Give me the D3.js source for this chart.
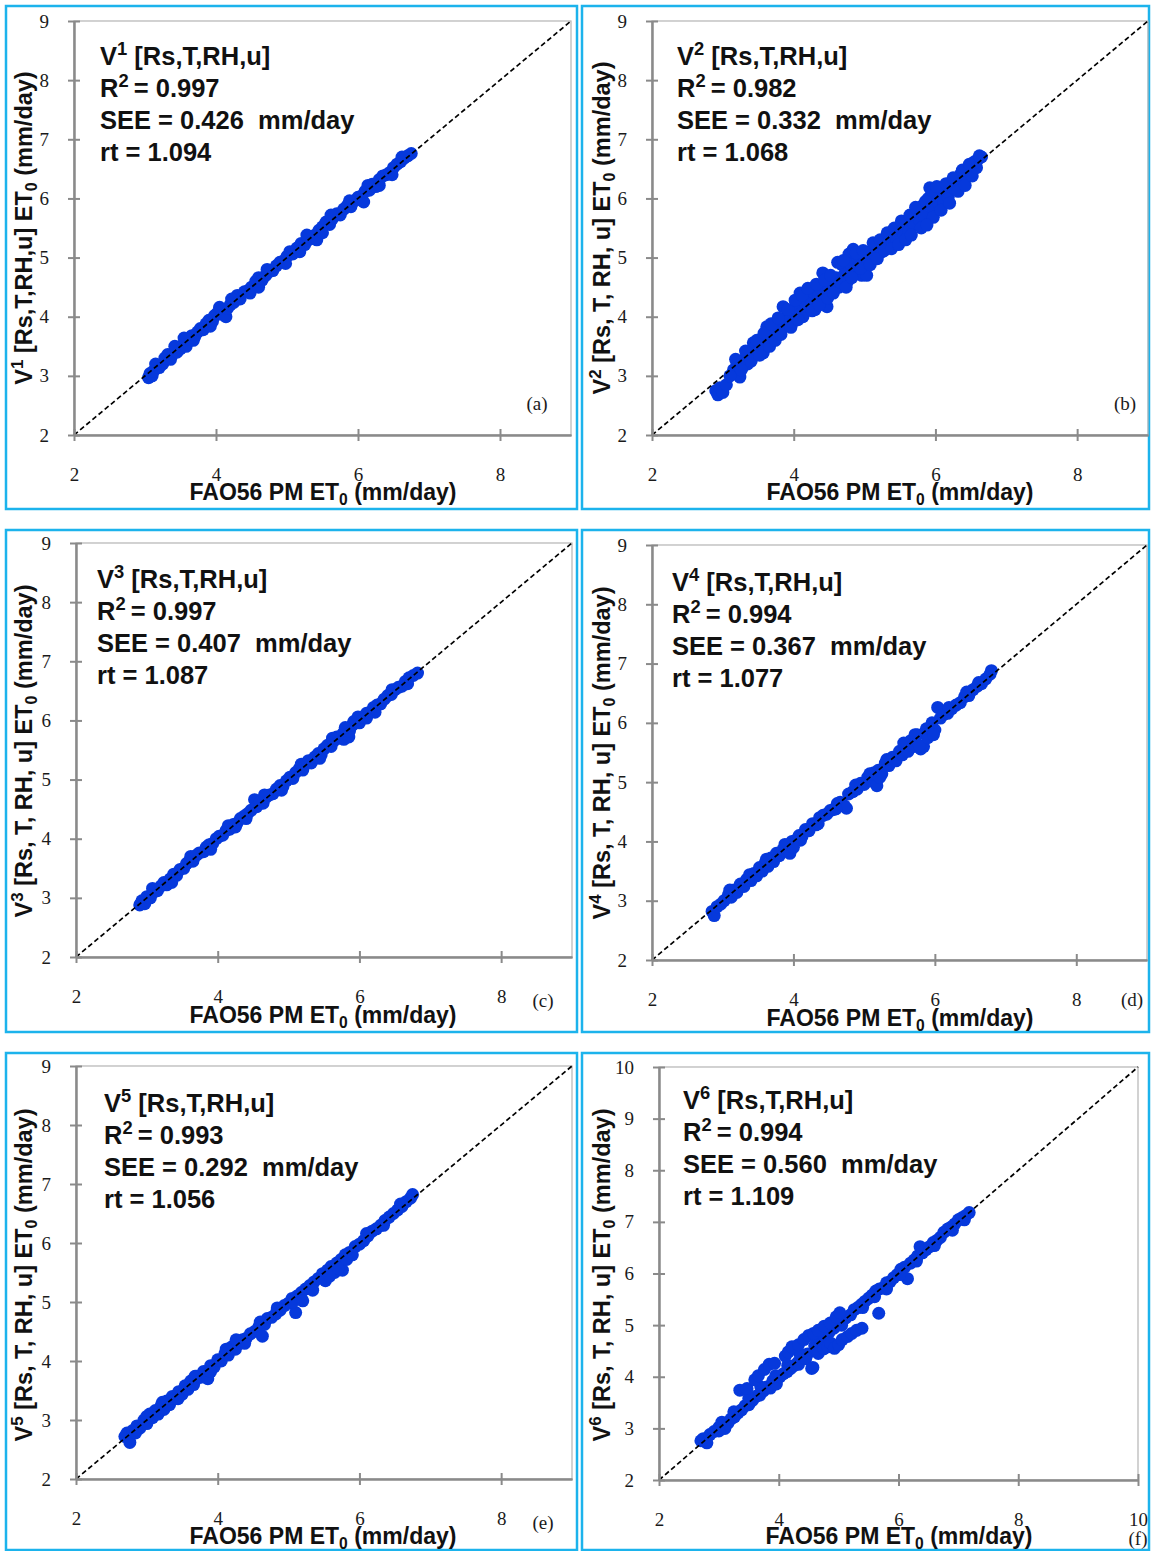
<!DOCTYPE html>
<html>
<head>
<meta charset="utf-8">
<script src="https://cdn.jsdelivr.net/npm/d3@7"></script>
<style>
body { margin: 0; background: #fff; }
svg { display: block; }
</style>
</head>
<body>
<svg id="chart" width="1151" height="1551"></svg>
<script>
// FAO56 PM ET0 (x) vs. estimated ET0 (y), mm/day
var v1Pts = [[3.05,2.97],[3.07,3.04],[3.1,3.0],[3.12,3.08],[3.2,3.14],[3.25,3.2],[3.28,3.3],[3.32,3.36],[3.36,3.28],[3.4,3.38],[3.45,3.4],[3.5,3.46],[3.55,3.55],[3.58,3.5],[3.62,3.62],[3.66,3.68],[3.7,3.66],[3.74,3.74],[3.78,3.8],[3.82,3.78],[3.86,3.88],[3.9,3.94],[3.95,3.92],[3.98,4.02],[4.02,4.06],[4.08,4.04],[4.14,4.0],[4.16,4.14],[4.2,4.2],[4.25,4.24],[4.3,4.36],[4.34,4.3],[4.4,4.42],[4.45,4.44],[4.5,4.5],[4.56,4.6],[4.6,4.66],[4.65,4.62],[4.7,4.7],[4.75,4.76],[4.8,4.78],[4.85,4.86],[4.9,4.92],[4.95,4.94],[5.0,5.02],[5.04,5.1],[5.08,5.06],[5.14,5.16],[5.2,5.24],[5.25,5.22],[5.3,5.3],[5.35,5.36],[5.4,5.38],[5.42,5.3],[5.45,5.46],[5.5,5.52],[5.55,5.6],[5.6,5.56],[5.64,5.66],[5.7,5.74],[5.75,5.72],[5.8,5.82],[5.85,5.88],[5.9,5.86],[5.95,5.96],[6.0,6.02],[6.05,6.04],[6.08,5.94],[6.1,6.12],[6.16,6.14],[6.2,6.24],[6.25,6.2],[6.3,6.32],[6.35,6.38],[6.4,6.4],[6.45,6.44],[6.5,6.52],[6.55,6.58],[6.6,6.62],[6.65,6.68],[6.7,6.72],[6.75,6.76],
  [3.15,3.2],[3.42,3.5],[3.68,3.6],[3.92,3.84],[4.22,4.3],[4.48,4.4],[4.72,4.8],[4.98,4.9],[5.18,5.1],[5.5,5.42],[5.62,5.72],[5.88,5.96],[6.14,6.22],[6.3,6.22],[6.48,6.4],[6.62,6.7],[4.6,4.5],[5.28,5.38],[3.55,3.64],[4.05,4.16]];

var v2Pts = [[2.9,2.75],[2.93,2.68],[2.96,2.8],[3.0,2.72],[3.05,2.85],[3.15,3.1],[3.2,3.2],[3.24,2.98],[3.28,3.15],[3.3,3.28],[3.35,3.2],[3.38,3.36],[3.43,3.56],[3.45,3.48],[3.5,3.42],[3.55,3.58],[3.57,3.39],[3.6,3.66],[3.62,3.83],[3.65,3.62],[3.7,3.76],[3.72,3.68],[3.76,3.86],[3.8,3.82],[3.85,4.17],[3.88,3.85],[3.9,4.0],[3.95,3.96],[3.98,4.08],[4.0,3.92],[4.05,4.12],[4.09,4.4],[4.1,4.05],[4.13,4.0],[4.15,4.3],[4.18,4.18],[4.22,4.38],[4.25,4.25],[4.28,4.42],[4.3,4.12],[4.35,4.35],[4.38,4.48],[4.41,4.74],[4.42,4.3],[4.47,4.17],[4.45,4.52],[4.5,4.45],[4.55,4.58],[4.6,4.66],[4.62,4.92],[4.64,4.5],[4.68,4.88],[4.72,4.72],[4.76,4.6],[4.78,5.06],[4.8,4.9],[4.84,5.14],[4.85,4.78],[4.9,4.98],[4.92,4.84],[4.96,4.7],[5.0,5.0],[5.03,4.7],[5.05,4.95],[5.1,5.12],[5.15,5.05],[5.2,5.18],[5.25,5.1],[5.3,5.3],[5.35,5.22],[5.4,5.38],[5.45,5.3],[5.5,5.52],[5.55,5.4],[5.6,5.62],[5.62,5.45],[5.68,5.72],[5.7,5.55],[5.75,5.8],[5.78,5.62],[5.82,5.88],[5.85,5.7],[5.9,6.0],[5.92,6.18],[5.95,5.85],[5.96,6.12],[5.97,5.68],[6.0,6.08],[6.05,5.92],[6.1,6.1],[6.12,5.95],[6.18,6.02],[6.22,6.2],[6.28,6.15],[6.3,6.3],[6.35,6.4],[6.4,6.34],[6.45,6.5],[6.5,6.46],[6.55,6.62],[6.6,6.66],[6.65,6.7],
  [3.1,3.0],[3.18,3.28],[3.26,3.1],[3.32,3.42],[3.4,3.25],[3.48,3.6],[3.52,3.35],[3.58,3.72],[3.66,3.5],[3.68,3.88],[3.74,3.6],[3.78,3.98],[3.82,3.7],[3.92,4.12],[3.96,3.82],[4.02,4.28],[4.06,3.95],[4.12,4.36],[4.2,4.48],[4.26,4.1],[4.32,4.55],[4.36,4.2],[4.44,4.62],[4.48,4.32],[4.52,4.7],[4.56,4.4],[4.66,4.58],[4.7,4.95],[4.74,4.5],[4.82,4.66],[4.88,5.08],[4.94,4.82],[4.98,5.12],[5.08,4.88],[5.12,5.25],[5.18,4.98],[5.22,5.3],[5.28,5.12],[5.32,5.42],[5.38,5.15],[5.42,5.5],[5.48,5.22],[5.52,5.62],[5.58,5.3],[5.64,5.72],[5.66,5.38],[5.72,5.85],[5.8,5.5],[5.86,5.95],[5.88,5.55],[6.02,6.2],[6.08,5.8],[6.15,6.25],[6.2,5.92],[6.25,6.35],[6.32,6.12],[6.38,6.48],[6.42,6.22],[6.48,6.58],[6.52,6.38],[6.58,6.52],[6.62,6.72]];

var v3Pts = [[2.9,2.88],[2.93,2.95],[2.97,2.9],[3.0,3.02],[3.05,3.0],[3.1,3.1],[3.15,3.12],[3.2,3.2],[3.24,3.26],[3.28,3.22],[3.33,3.32],[3.38,3.4],[3.42,3.38],[3.47,3.48],[3.52,3.5],[3.56,3.58],[3.6,3.62],[3.65,3.62],[3.7,3.72],[3.74,3.76],[3.8,3.78],[3.84,3.86],[3.88,3.9],[3.93,3.92],[3.98,4.0],[4.02,4.04],[4.07,4.06],[4.12,4.14],[4.17,4.16],[4.22,4.24],[4.27,4.26],[4.32,4.34],[4.37,4.38],[4.42,4.42],[4.47,4.48],[4.52,4.66],[4.55,4.54],[4.6,4.62],[4.64,4.6],[4.68,4.7],[4.73,4.74],[4.78,4.76],[4.83,4.84],[4.88,4.9],[4.92,4.88],[4.97,4.98],[5.02,5.04],[5.06,5.02],[5.1,5.12],[5.15,5.18],[5.2,5.16],[5.24,5.26],[5.28,5.32],[5.32,5.28],[5.37,5.38],[5.42,5.44],[5.46,5.42],[5.5,5.52],[5.55,5.58],[5.6,5.56],[5.64,5.66],[5.68,5.72],[5.72,5.7],[5.77,5.78],[5.78,5.68],[5.82,5.84],[5.85,5.72],[5.86,5.82],[5.9,5.92],[5.92,5.98],[5.95,5.98],[6.0,5.96],[6.05,6.06],[6.1,6.12],[6.15,6.14],[6.2,6.22],[6.25,6.26],[6.3,6.28],[6.35,6.36],[6.4,6.42],[6.45,6.44],[6.5,6.52],[6.55,6.56],[6.6,6.58],[6.65,6.66],[6.7,6.72],[6.76,6.76],[6.82,6.8],
  [3.08,3.16],[3.35,3.26],[3.62,3.7],[3.9,3.82],[4.15,4.22],[4.4,4.34],[4.66,4.74],[4.9,4.82],[5.18,5.26],[5.44,5.36],[5.62,5.7],[5.98,6.06],[6.22,6.14],[6.46,6.52],[6.68,6.62],[5.8,5.88],[6.1,6.04],[4.25,4.2]];

var v4Pts = [[2.85,2.82],[2.88,2.75],[2.92,2.9],[2.97,2.94],[3.02,3.0],[3.08,3.1],[3.12,3.06],[3.16,3.18],[3.2,3.14],[3.25,3.28],[3.3,3.24],[3.34,3.36],[3.4,3.34],[3.44,3.46],[3.48,3.42],[3.52,3.56],[3.56,3.5],[3.6,3.64],[3.64,3.58],[3.68,3.72],[3.72,3.66],[3.76,3.8],[3.8,3.76],[3.85,3.86],[3.9,3.88],[3.95,3.8],[3.98,4.0],[4.03,4.02],[4.08,4.1],[4.12,4.08],[4.17,4.2],[4.22,4.18],[4.27,4.3],[4.32,4.28],[4.37,4.4],[4.42,4.44],[4.47,4.46],[4.52,4.52],[4.57,4.54],[4.62,4.64],[4.66,4.66],[4.72,4.6],[4.75,4.56],[4.78,4.8],[4.84,4.84],[4.9,4.88],[4.95,4.98],[5.0,4.96],[5.05,5.08],[5.1,5.02],[5.14,5.16],[5.18,4.94],[5.2,5.2],[5.25,5.14],[5.3,5.32],[5.35,5.28],[5.4,5.42],[5.45,5.36],[5.5,5.52],[5.54,5.46],[5.58,5.62],[5.62,5.52],[5.66,5.7],[5.7,5.6],[5.75,5.8],[5.8,5.56],[5.84,5.6],[5.88,5.9],[5.92,5.82],[5.96,6.0],[6.0,5.88],[6.04,6.26],[6.08,6.08],[6.12,6.14],[6.18,6.16],[6.24,6.24],[6.3,6.3],[6.36,6.34],[6.42,6.44],[6.48,6.46],[6.54,6.56],[6.6,6.62],[6.66,6.66],[6.72,6.74],[6.78,6.82],[6.8,6.88],
  [3.1,3.18],[3.38,3.44],[3.62,3.7],[3.88,3.95],[4.1,4.02],[4.35,4.3],[4.6,4.55],[4.88,4.95],[5.08,5.14],[5.32,5.38],[5.56,5.66],[5.72,5.8],[5.78,5.62],[5.9,5.75],[5.98,5.8],[6.2,6.26],[6.45,6.52],[6.62,6.68],[4.0,3.9],[5.22,5.08]];

var v5Pts = [[2.69,2.72],[2.72,2.78],[2.76,2.62],[2.8,2.82],[2.86,2.9],[2.9,2.86],[2.96,3.0],[3.0,2.94],[3.04,3.1],[3.08,3.04],[3.12,3.16],[3.16,3.1],[3.2,3.24],[3.24,3.18],[3.28,3.32],[3.32,3.26],[3.36,3.4],[3.4,3.36],[3.45,3.48],[3.5,3.44],[3.54,3.58],[3.58,3.52],[3.62,3.66],[3.66,3.6],[3.7,3.74],[3.75,3.72],[3.8,3.82],[3.86,3.7],[3.9,3.92],[3.95,3.9],[4.0,4.02],[4.05,4.0],[4.1,4.12],[4.15,4.1],[4.2,4.24],[4.25,4.2],[4.3,4.34],[4.35,4.36],[4.4,4.38],[4.46,4.46],[4.52,4.5],[4.58,4.58],[4.63,4.42],[4.66,4.62],[4.7,4.72],[4.76,4.74],[4.82,4.8],[4.88,4.86],[4.94,4.94],[5.0,4.98],[5.05,5.06],[5.1,4.82],[5.12,5.1],[5.18,5.16],[5.24,5.22],[5.3,5.28],[5.36,5.34],[5.42,5.4],[5.48,5.48],[5.52,5.36],[5.55,5.54],[5.6,5.6],[5.65,5.5],[5.68,5.66],[5.74,5.72],[5.76,5.54],[5.8,5.8],[5.86,5.84],[5.9,5.8],[5.94,5.94],[6.0,5.98],[6.06,6.04],[6.12,6.12],[6.18,6.2],[6.24,6.24],[6.3,6.3],[6.36,6.38],[6.42,6.44],[6.48,6.5],[6.54,6.56],[6.6,6.62],[6.66,6.7],[6.72,6.76],[6.75,6.82],
  [2.84,2.78],[3.0,3.06],[3.22,3.3],[3.44,3.36],[3.68,3.74],[3.9,3.82],[4.12,4.2],[4.38,4.3],[4.6,4.66],[4.84,4.9],[5.06,5.0],[5.2,5.02],[5.34,5.2],[5.58,5.44],[5.7,5.58],[5.82,5.72],[6.1,6.16],[6.34,6.3],[6.58,6.66],[4.26,4.36]];

var v6Pts = [[2.7,2.76],[2.74,2.8],[2.8,2.72],[2.85,2.88],[2.92,2.94],[3.0,3.02],[3.05,3.12],[3.1,3.0],[3.15,3.1],[3.2,3.18],[3.26,3.22],[3.32,3.3],[3.38,3.36],[3.44,3.44],[3.5,3.46],[3.56,3.54],[3.62,3.62],[3.68,3.64],[3.74,3.72],[3.8,3.8],[3.86,3.78],[3.9,3.92],[3.96,3.86],[4.02,4.0],[4.08,4.06],[4.14,4.1],[4.2,4.16],[4.26,4.22],[4.32,4.28],[4.4,4.4],[4.48,4.44],[4.55,4.16],[4.6,4.6],[4.68,4.66],[4.76,4.76],[4.84,4.86],[4.92,4.94],[5.0,5.02],[5.06,5.1],[5.12,5.14],[5.2,5.2],[5.26,5.3],[5.32,5.34],[5.38,5.4],[5.44,5.46],[5.5,5.52],[5.56,5.58],[5.62,5.66],[5.68,5.7],[5.74,5.72],[5.8,5.82],[5.86,5.84],[5.92,5.92],[5.98,5.98],[6.04,6.08],[6.1,6.12],[6.15,5.9],[6.2,6.2],[6.26,6.26],[6.32,6.34],[6.36,6.52],[6.4,6.4],[6.46,6.46],[6.52,6.52],[6.58,6.6],[6.64,6.64],[6.7,6.7],[6.76,6.8],[6.82,6.86],[6.88,6.9],[6.94,6.96],[7.0,7.04],[7.06,7.08],[7.12,7.12],[7.18,7.18],
  [3.0,2.95],[3.25,3.32],[3.5,3.58],[3.7,3.8],[3.95,4.02],[4.15,4.22],[4.35,4.45],[4.62,4.54],[5.05,5.0],[5.4,5.34],[5.6,5.55],[5.8,5.7],[6.02,5.98],[6.3,6.24],[6.6,6.54],[6.9,6.84],[7.1,7.04],
  [3.35,3.74],[3.47,3.77],[3.6,3.94],[3.66,4.02],[3.76,4.14],[3.84,4.24],[3.93,4.26],[4.11,4.4],[4.16,4.48],[4.22,4.58],[4.33,4.62],[4.42,4.72],[4.5,4.8],[4.58,4.84],[4.66,4.9],[4.76,4.98],[4.86,5.04],[4.96,5.16],[5.02,5.24],
  [4.33,4.24],[4.45,4.35],[4.57,4.18],[4.66,4.45],[4.75,4.54],[4.82,4.58],[4.87,4.65],[4.93,4.55],[5.0,4.62],[5.06,4.72],[5.15,4.78],[5.22,4.84],[5.3,4.9],[5.39,4.94],[5.67,5.23]];

var versions = ["1", "2", "3", "4", "5", "6"];
var inputsNote = ["[Rs,T,RH,u]", "[Rs,T,RH,u]", "[Rs,T,RH,u]", "[Rs,T,RH,u]", "[Rs,T,RH,u]", "[Rs,T,RH,u]"];
var inputsAxis = ["[Rs,T,RH,u]", "[Rs, T, RH, u]", "[Rs, T, RH, u]", "[Rs, T, RH, u]", "[Rs, T, RH, u]", "[Rs, T, RH, u]"];
var r2Values = ["0.997", "0.982", "0.997", "0.994", "0.993", "0.994"];
var seeValues = ["0.426", "0.332", "0.407", "0.367", "0.292", "0.560"];
var rtValues = ["1.094", "1.068", "1.087", "1.077", "1.056", "1.109"];
var panelTags = ["(a)", "(b)", "(c)", "(d)", "(e)", "(f)"];

var yTicks9 = [2, 3, 4, 5, 6, 7, 8, 9];
var xTicks9 = [2, 4, 6, 8];
var yTicks10 = [2, 3, 4, 5, 6, 7, 8, 9, 10];
var xTicks10 = [2, 4, 6, 8, 10];

var allPts = [v1Pts, v2Pts, v3Pts, v4Pts, v5Pts, v6Pts];

// panel geometry (pixels)
var layout = [
    {frame: [6, 6, 577, 509], left: 74, right: 571, bottom: 435, top: 21, max: 9, note: [100, 65], tag: [537, 410], xTitle: [323, 500], yTitle: [32, 228]},
    {frame: [582, 6, 1149, 509], left: 652, right: 1148, bottom: 435, top: 21, max: 9, note: [677, 65], tag: [1125, 410], xTitle: [900, 500], yTitle: [610, 228]},
    {frame: [6, 530, 577, 1032], left: 76, right: 572, bottom: 957, top: 543, max: 9, note: [97, 588], tag: [543, 1007], xTitle: [323, 1023], yTitle: [32, 751]},
    {frame: [582, 530, 1149, 1032], left: 652, right: 1147, bottom: 960, top: 545, max: 9, note: [672, 591], tag: [1132, 1006], xTitle: [900, 1026], yTitle: [610, 753]},
    {frame: [6, 1053, 577, 1550], left: 76, right: 572, bottom: 1479, top: 1066, max: 9, note: [104, 1112], tag: [543, 1529], xTitle: [323, 1544], yTitle: [32, 1275]},
    {frame: [582, 1053, 1149, 1550], left: 659, right: 1138, bottom: 1480, top: 1067, max: 10, note: [683, 1109], tag: [1138, 1545], xTitle: [899, 1544], yTitle: [610, 1275]}
];

var svg = d3.select("#chart");

function richText(sel, parts, size) {
    var shift = 0;
    parts.forEach(function(p) {
        var target = p.sup ? -size * 0.38 : (p.sub ? size * 0.2 : 0);
        var ts = sel.append("tspan").attr("dy", target - shift).text(p.t);
        if (p.sup) ts.attr("font-size", size * 0.72);
        if (p.sub) ts.attr("font-size", size * 0.68);
        shift = target;
    });
}

layout.forEach(function(L, i) {
    var pts = allPts[i];
    var f = L.frame;

    svg.append("rect")
        .attr("x", f[0]).attr("y", f[1])
        .attr("width", f[2] - f[0]).attr("height", f[3] - f[1])
        .attr("fill", "none")
        .attr("stroke", "#1cb3ec")
        .attr("stroke-width", 2.5);

    var x = d3.scaleLinear().domain([2, L.max]).range([L.left, L.right]);
    var y = d3.scaleLinear().domain([2, L.max]).range([L.bottom, L.top]);
    var xt = L.max == 10 ? xTicks10 : xTicks9;
    var yt = L.max == 10 ? yTicks10 : yTicks9;

    var g = svg.append("g");

    // plot area border
    g.append("rect")
        .attr("x", x(2)).attr("y", y(L.max))
        .attr("width", x(L.max) - x(2)).attr("height", y(2) - y(L.max))
        .attr("fill", "none")
        .attr("stroke", "#b4b4b4")
        .attr("stroke-width", 1.2);

    // points
    g.append("g").selectAll("circle")
        .data(pts)
        .enter().append("circle")
        .attr("cx", function(d) { return x(d[0]); })
        .attr("cy", function(d) { return y(d[1]); })
        .attr("r", 6.5)
        .attr("fill", "#0639dc");

    // 1:1 line
    var line = d3.line()
        .x(function(d) { return x(d); })
        .y(function(d) { return y(d); });
    g.append("path")
        .attr("d", line([2, L.max]))
        .attr("fill", "none")
        .attr("stroke", "#000")
        .attr("stroke-width", 1.7)
        .attr("stroke-dasharray", "5,3");

    // axes with cross ticks
    var xAxis = d3.axisBottom(x).tickValues(xt).tickSize(6).tickSizeOuter(0).tickPadding(27).tickFormat(d3.format("d"));
    var xInner = d3.axisBottom(x).tickValues(xt).tickSize(-6).tickSizeOuter(0).tickFormat("");
    var yAxis = d3.axisLeft(y).tickValues(yt).tickSize(6).tickSizeOuter(0).tickPadding(19).tickFormat(d3.format("d"));
    var yInner = d3.axisLeft(y).tickValues(yt).tickSize(-6).tickSizeOuter(0).tickFormat("");

    [xAxis, xInner].forEach(function(ax) {
        g.append("g")
            .attr("class", "axis")
            .attr("transform", "translate(0," + L.bottom + ")")
            .call(ax);
    });
    [yAxis, yInner].forEach(function(ax) {
        g.append("g")
            .attr("class", "axis")
            .attr("transform", "translate(" + L.left + ",0)")
            .call(ax);
    });

    g.selectAll(".axis path, .axis line")
        .attr("stroke", "#8a8a8a")
        .attr("stroke-width", 2);
    g.selectAll(".axis text")
        .attr("font-family", "'Liberation Serif', 'Times New Roman', serif")
        .attr("font-size", 19)
        .attr("fill", "#1a1a1a");

    // annotation
    var noteSize = 25.5;
    var notes = [
        [{t: "V"}, {t: versions[i], sup: true}, {t: " " + inputsNote[i]}],
        [{t: "R"}, {t: "2", sup: true}, {t: "\u2009= " + r2Values[i]}],
        [{t: "SEE = " + seeValues[i] + "\u00a0 mm/day"}],
        [{t: "rt = " + rtValues[i]}]
    ];
    notes.forEach(function(parts, k) {
        var t = g.append("text")
            .attr("x", L.note[0])
            .attr("y", L.note[1] + k * 32)
            .attr("font-family", "'Liberation Sans', Arial, sans-serif")
            .attr("font-weight", "bold")
            .attr("font-size", noteSize)
            .attr("fill", "#111");
        richText(t, parts, noteSize);
    });

    // panel tag
    g.append("text")
        .attr("x", L.tag[0]).attr("y", L.tag[1])
        .attr("text-anchor", "middle")
        .attr("font-family", "'Liberation Serif', 'Times New Roman', serif")
        .attr("font-size", 19)
        .attr("fill", "#1a1a1a")
        .text(panelTags[i]);

    // axis titles
    var xSize = 23;
    var xt2 = g.append("text")
        .attr("x", L.xTitle[0]).attr("y", L.xTitle[1])
        .attr("text-anchor", "middle")
        .attr("font-family", "'Liberation Sans', Arial, sans-serif")
        .attr("font-weight", "bold")
        .attr("font-size", xSize)
        .attr("fill", "#111");
    richText(xt2, [{t: "FAO56 PM ET"}, {t: "0", sub: true}, {t: " (mm/day)"}], xSize);

    var ySize = 23.5;
    var yt2 = g.append("text")
        .attr("transform", "translate(" + L.yTitle[0] + "," + L.yTitle[1] + ") rotate(-90)")
        .attr("text-anchor", "middle")
        .attr("font-family", "'Liberation Sans', Arial, sans-serif")
        .attr("font-weight", "bold")
        .attr("font-size", ySize)
        .attr("fill", "#111");
    richText(yt2, [{t: "V"}, {t: versions[i], sup: true}, {t: " " + inputsAxis[i] + " ET"}, {t: "0", sub: true}, {t: " (mm/day)"}], ySize);
});
</script>
</body>
</html>
